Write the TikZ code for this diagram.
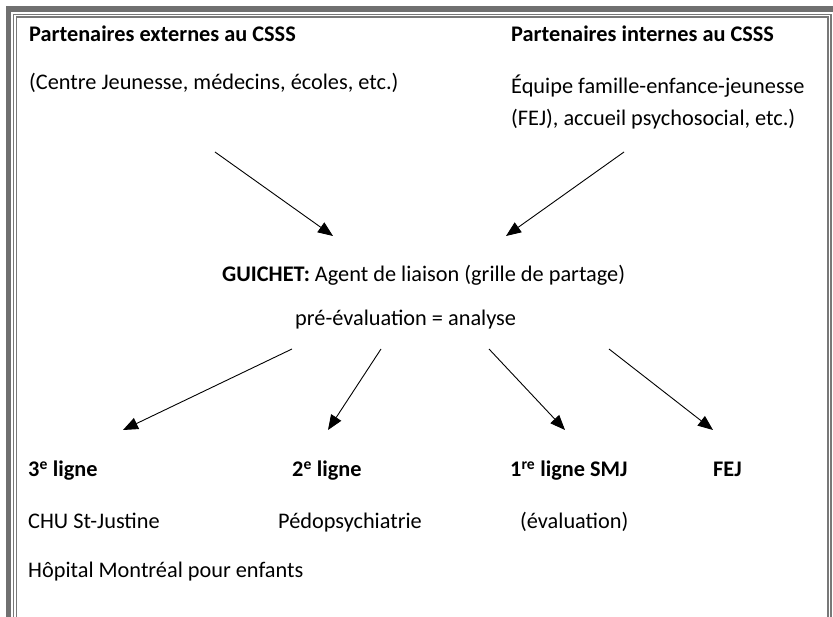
\documentclass[tikz,border=0pt]{standalone}
\usepackage{fontspec}
\setmainfont{Carlito}
\usepackage{tikz}
\usetikzlibrary{arrows.meta}

\begin{document}
\begin{tikzpicture}[x=1pt,y=-1pt,
    txt/.style={anchor=base west,inner sep=0pt,font=\fontsize{22.3}{26}\selectfont},
    btxt/.style={txt,font=\fontsize{22.3}{26}\selectfont\bfseries},
    arr/.style={line width=0.9pt,-{Triangle[length=15pt,width=12pt]}},
    frameThick/.style={draw={rgb,255:red,112;green,112;blue,112},line width=5.5pt},
    frameThin/.style={draw={rgb,255:red,120;green,120;blue,120},line width=1.2pt}]
    \useasboundingbox (0,0) rectangle (833,617);
    \draw [frameThick] (8.5,630) -- (8.5,9) -- (840,9);
    \draw [frameThin] (13.5,630) -- (13.5,14.5) -- (831,14.5) -- (831,630);
    \draw [frameThin] (16.5,630) -- (16.5,17) -- (828,17) -- (828,630);
    \node [btxt] (extTitle) at (29,42) {Partenaires externes au CSSS};
    \node [txt] (extList) at (29,90) {(Centre Jeunesse, médecins, écoles, etc.)};
    \node [btxt] (intTitle) at (511,42) {Partenaires internes au CSSS};
    \node [txt] (intListA) at (511,94) {Équipe famille-enfance-jeunesse};
    \node [txt] (intListB) at (511,126) {(FEJ), accueil psychosocial, etc.)};
    \node [txt] (guichet) at (222,282) {\textbf{GUICHET:} Agent de liaison (grille de partage)};
    \node [txt] (preEval) at (295,326) {pré-évaluation = analyse};
    \node [btxt] (ligneTrois) at (28,477) {3\textsuperscript{e} ligne};
    \node [btxt] (ligneDeux) at (292,477) {2\textsuperscript{e} ligne};
    \node [btxt] (ligneUn) at (510,477) {1\textsuperscript{re} ligne SMJ};
    \node [btxt] (fej) at (713,477) {FEJ};
    \node [txt] (chu) at (28,528) {CHU St-Justine};
    \node [txt] (pedo) at (278,528) {Pédopsychiatrie};
    \node [txt] (evalu) at (520,528) {(évaluation)};
    \node [txt] (hopital) at (28,577) {Hôpital Montréal pour enfants};
    \coordinate (extOut) at (215,152);
    \coordinate (intOut) at (624,152);
    \coordinate (guichetInA) at (333,236);
    \coordinate (guichetInB) at (506,236);
    \coordinate (evalOutA) at (292,349);
    \coordinate (evalOutB) at (381,349);
    \coordinate (evalOutC) at (489,349);
    \coordinate (evalOutD) at (609,349);
    \coordinate (troisIn) at (123,430);
    \coordinate (deuxIn) at (328,430);
    \coordinate (unIn) at (565,430);
    \coordinate (fejIn) at (713,430);
    \draw [arr] (extOut) -- (guichetInA);
    \draw [arr] (intOut) -- (guichetInB);
    \draw [arr] (evalOutA) -- (troisIn);
    \draw [arr] (evalOutB) -- (deuxIn);
    \draw [arr] (evalOutC) -- (unIn);
    \draw [arr] (evalOutD) -- (fejIn);
\end{tikzpicture}
\end{document}
